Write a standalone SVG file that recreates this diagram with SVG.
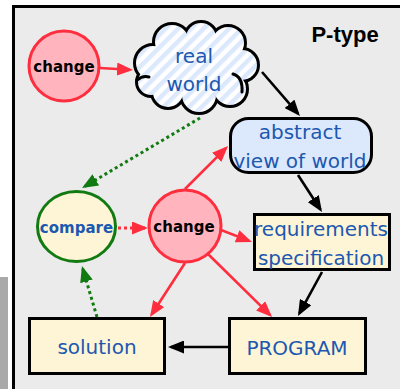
<svg xmlns="http://www.w3.org/2000/svg" xmlns:xlink="http://www.w3.org/1999/xlink" width="400" height="389" viewBox="0 0 400 389">
  <style>
    .lbl { font-family: "DejaVu Sans", sans-serif; font-size: 20px; fill: #1d58b0; text-anchor: middle; }
    .bold { font-family: "DejaVu Sans", sans-serif; font-weight: bold; font-size: 15px; text-anchor: middle; }
    .box { fill: #fdf5d6; stroke: #000; stroke-width: 3; }
    .chg { fill: #ffb4be; stroke: #ff2e3e; stroke-width: 3; }
    .red { stroke: #ff2e3e; stroke-width: 2.6; fill: none; marker-end: url(#ahRed); }
    .blk { stroke: #000; stroke-width: 2.6; fill: none; marker-end: url(#ahBlk); }
    .grn { stroke: #117a11; stroke-width: 3; fill: none; stroke-dasharray: 3 3; marker-end: url(#ahGrn); }
    .reddot { stroke: #ff2e3e; stroke-width: 3; fill: none; stroke-dasharray: 3 3; marker-end: url(#ahRed); }
  </style>
  <defs>
    <marker id="ahRed" markerUnits="userSpaceOnUse" markerWidth="17" markerHeight="13" refX="13" refY="6.5" orient="auto">
      <path d="M0,0 L16,6.5 L0,13 z" fill="#ff2e3e"/>
    </marker>
    <marker id="ahBlk" markerUnits="userSpaceOnUse" markerWidth="17" markerHeight="13" refX="13" refY="6.5" orient="auto">
      <path d="M0,0 L16,6.5 L0,13 z" fill="#000"/>
    </marker>
    <marker id="ahGrn" markerUnits="userSpaceOnUse" markerWidth="17" markerHeight="13" refX="13" refY="6.5" orient="auto">
      <path d="M0,0 L16,6.5 L0,13 z" fill="#117a11"/>
    </marker>
    <pattern id="hatch" patternUnits="userSpaceOnUse" width="9" height="9" patternTransform="rotate(45)">
      <rect width="9" height="9" fill="#ffffff"/>
      <rect width="4.5" height="9" fill="#dce8fb"/>
    </pattern>
    <!-- bumps of the cloud outline -->
    <g id="cloudShape">
      <circle cx="153" cy="63" r="17"/>
      <circle cx="172" cy="42" r="17"/>
      <circle cx="201" cy="38" r="15"/>
      <circle cx="228" cy="43" r="16"/>
      <circle cx="242" cy="65" r="15"/>
      <circle cx="230" cy="89" r="16"/>
      <circle cx="199" cy="95" r="17"/>
      <circle cx="168" cy="92" r="15"/>
      <circle cx="151" cy="82" r="13"/>
      <ellipse cx="197" cy="67" rx="40" ry="25"/>
    </g>
  </defs>

  <!-- page background and frame -->
  <rect width="400" height="389" fill="#ffffff"/>
  <rect x="0" y="277" width="8" height="112" fill="#a9a9a9"/>
  <rect x="13.5" y="6.5" width="400" height="400" fill="#ebebeb" stroke="#000" stroke-width="3"/>

  <text x="345" y="42" font-family="'Liberation Sans', Arial, sans-serif" font-weight="bold" font-size="22" text-anchor="middle" fill="#000">P-type</text>

  <!-- connectors -->
  <g id="connectors">
    <line class="red" x1="100" y1="68" x2="130" y2="69.8"/>
    <line class="blk" x1="262" y1="72" x2="298" y2="113.7"/>
    <line class="blk" x1="298" y1="175" x2="320.4" y2="209.5"/>
    <line class="blk" x1="322" y1="272" x2="299.4" y2="313.4"/>
    <line class="blk" x1="228" y1="347" x2="171" y2="347"/>
    <line class="red" x1="185" y1="189" x2="225.9" y2="148.1"/>
    <line class="red" x1="221" y1="230" x2="249.2" y2="240.9"/>
    <line class="red" x1="208" y1="254" x2="269.9" y2="314.9"/>
    <line class="red" x1="185" y1="263" x2="151.6" y2="314.5"/>
    <line class="reddot" x1="118" y1="228" x2="145" y2="228"/>
    <line class="grn" x1="200" y1="118" x2="84.6" y2="186.5"/>
    <line class="grn" x1="97" y1="317" x2="82.8" y2="268.9"/>
  </g>

  <g id="change-top">
    <circle class="chg" cx="64" cy="66" r="35"/>
    <text class="bold" x="64" y="72">change</text>
  </g>

  <g id="real-world">
    <use xlink:href="#cloudShape" stroke="#000" stroke-width="6" fill="#000"/>
    <use xlink:href="#cloudShape" fill="url(#hatch)"/>
    <path d="M233,74 q10,3 9,18 M137,80 q6,-5 12,-3" fill="none" stroke="#000" stroke-width="3" stroke-linecap="round"/>
    <text class="lbl" x="194" y="63">real</text>
    <text class="lbl" x="194" y="91">world</text>
  </g>

  <g id="abstract-view">
    <rect x="230.5" y="118.5" width="141" height="54" rx="18" fill="#dce8fb" stroke="#000" stroke-width="3"/>
    <text class="lbl" x="300" y="139">abstract</text>
    <text class="lbl" x="300" y="168">view of world</text>
  </g>

  <g id="compare">
    <ellipse cx="76.5" cy="226.5" rx="39" ry="35" fill="#fdf5d6" stroke="#117a11" stroke-width="3"/>
    <text class="bold" x="76.5" y="233" font-size="15.5" fill="#1d58b0">compare</text>
  </g>

  <g id="change-mid">
    <circle class="chg" cx="185" cy="226" r="36"/>
    <text class="bold" x="184" y="232">change</text>
  </g>

  <g id="requirements">
    <rect class="box" x="254.5" y="214.5" width="135" height="55"/>
    <text class="lbl" x="321" y="236" font-size="19">requirements</text>
    <text class="lbl" x="321" y="265" font-size="19">specification</text>
  </g>

  <g id="program">
    <rect class="box" x="229.5" y="318.5" width="136" height="55"/>
    <text class="lbl" x="297" y="355">PROGRAM</text>
  </g>

  <g id="solution">
    <rect class="box" x="29.5" y="318.5" width="135" height="55"/>
    <text class="lbl" x="97" y="354">solution</text>
  </g>
</svg>
